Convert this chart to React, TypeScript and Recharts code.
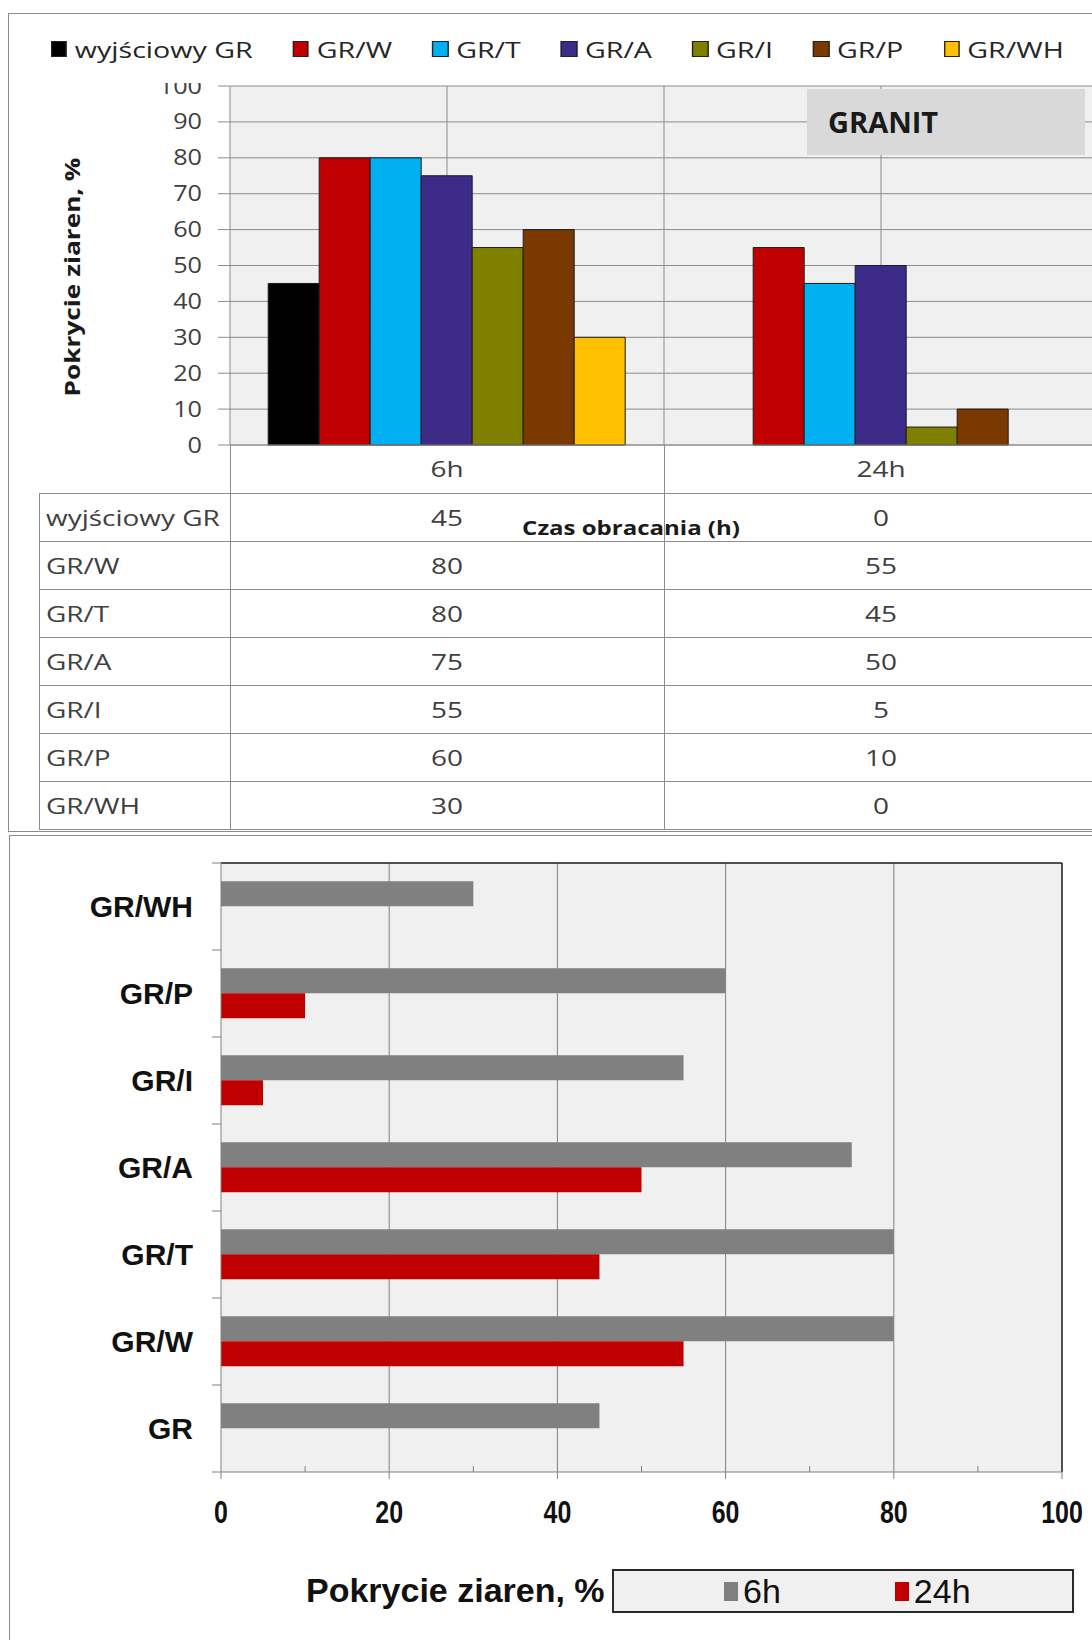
import React from "react";
import { BarChart, Bar, XAxis, YAxis, CartesianGrid, Legend, ReferenceLine } from "recharts";

const seriesNames = ["wyjściowy GR", "GR/W", "GR/T", "GR/A", "GR/I", "GR/P", "GR/WH"];
const shortNames = ["GR", "GR/W", "GR/T", "GR/A", "GR/I", "GR/P", "GR/WH"];
const times = ["6h", "24h"];
const values6h = [45, 80, 80, 75, 55, 60, 30];
const values24h = [0, 55, 45, 50, 5, 10, 0];
const seriesColors = ["#000000", "#C00000", "#00B0F0", "#3D2B89", "#808000", "#7A3900", "#FFC000"];
const timeColors = ["#808080", "#C00000"];
const topTicks = [0, 10, 20, 30, 40, 50, 60, 70, 80, 90, 100];
const bottomTicks = [0, 10, 20, 30, 40, 50, 60, 70, 80, 90, 100];

const valuesByTime = [values6h, values24h];

const topData = times.map((time, ti) => {
  const row: Record<string, string | number> = { time };
  seriesNames.forEach((_, si) => {
    row[`s${si}`] = valuesByTime[ti][si];
  });
  return row;
});

// bottom chart lists categories top-down, GR/WH first
const bottomData = shortNames
  .map((name, i) => ({ name, h6: values6h[i], h24: values24h[i] }))
  .reverse();

const CALIBRI = "'Open Sans', sans-serif";
const ARIAL = "'Liberation Sans', Arial, sans-serif";

// layout
const TOP_W = 1100;
const TOP_H = 493;
const TOP_LEFT = 230;
const TOP_TOP = 86;
const TOP_RIGHT_M = 2;
const TOP_PLOT_W = TOP_W - TOP_LEFT - TOP_RIGHT_M;
const TOP_PLOT_BOTTOM = 445;
const TABLE_TOP = 493;
const ROW_H = 48;
const TABLE_LEFT = 39;

const BOT_Y = 835;
const BOT_W = 1092;
const BOT_H = 805;
const BOT_LEFT = 221;
const BOT_TOP_M = 28;
const BOT_PLOT_H = 609;
const X_MAX = 100;

const lineColor = "#8C8C8C";

const topVerticalLines = ({ offset }: any) => {
  const n = times.length;
  const out: number[] = [];
  for (let i = 0; i < n; i++) {
    out.push(offset.left + (offset.width * (i + 0.5)) / n);
    if (i > 0) out.push(offset.left + (offset.width * i) / n);
  }
  return out;
};

const TopYTick = (props: any) => {
  const { x, y, payload } = props;
  return (
    <text
      transform={`translate(${x},${y}) scale(1.2,1)`}
      textAnchor="end"
      dy="0.36em"
      fill="#404040"
      style={{ fontFamily: CALIBRI, fontSize: 21 }}
    >
      {payload.value}
    </text>
  );
};

const TopXTick = (props: any) => {
  const { x, y, payload } = props;
  return (
    <text
      transform={`translate(${x},${y + 32}) scale(1.27,1)`}
      textAnchor="middle"
      fill="#404040"
      style={{ fontFamily: CALIBRI, fontSize: 22 }}
    >
      {payload.value}
    </text>
  );
};

const BottomYTick = (props: any) => {
  const { x, y, payload, index } = props;
  const band = BOT_PLOT_H / shortNames.length;
  return (
    <g>
      <line x1={x - 9} x2={x} y1={y - band / 2} y2={y - band / 2} stroke="#808080" />
      {index === shortNames.length - 1 && (
        <line x1={x - 9} x2={x} y1={y + band / 2} y2={y + band / 2} stroke="#808080" />
      )}
      <text
        x={x - 28}
        y={y}
        dy="0.36em"
        textAnchor="end"
        fill="#111"
        style={{ fontFamily: ARIAL, fontSize: 30, fontWeight: 700 }}
      >
        {payload.value}
      </text>
    </g>
  );
};

const BottomXTick = (props: any) => {
  const { x, y, payload } = props;
  const major = payload.value % 20 === 0;
  return (
    <g>
      <line x1={x} x2={x} y1={y} y2={major ? y + 7 : y - 6} stroke="#808080" />
      {major && (
        <text
          transform={`translate(${x},${y + 51}) scale(0.78,1)`}
          textAnchor="middle"
          fill="#111"
          style={{ fontFamily: ARIAL, fontSize: 32, fontWeight: 700 }}
        >
          {payload.value}
        </text>
      )}
    </g>
  );
};

const TopLegend = () => (
  <div style={{ position: "relative", width: "100%", height: "100%" }}>
    <div
      style={{
        position: "absolute",
        left: 42,
        top: 20,
        height: 30,
        display: "flex",
        alignItems: "center",
        transform: "scaleX(1.3)",
        transformOrigin: "0 50%",
        whiteSpace: "nowrap",
        fontFamily: CALIBRI,
        fontSize: 22,
        lineHeight: "30px",
        color: "#262626",
      }}
    >
      {seriesNames.map((n, i) => (
        <div key={n} style={{ display: "flex", alignItems: "center", marginRight: 31 }}>
          <span
            style={{
              width: 12.3,
              height: 16,
              background: seriesColors[i],
              border: "1px solid #222",
              boxSizing: "border-box",
              marginRight: 6,
            }}
          />
          <span>{n}</span>
        </div>
      ))}
    </div>
  </div>
);

const BottomLegend = () => (
  <div
    style={{
      boxSizing: "border-box",
      width: 462,
      height: 44,
      border: "2px solid #2a2a2a",
      background: "#F0F0F0",
      display: "flex",
      alignItems: "center",
      paddingLeft: 110,
      fontFamily: ARIAL,
      fontSize: 34,
      lineHeight: "40px",
      color: "#111",
    }}
  >
    {times.map((t, i) => (
      <div key={t} style={{ display: "flex", alignItems: "center", marginRight: i === 0 ? 114 : 0 }}>
        <span style={{ width: 14, height: 19, background: timeColors[i], marginRight: 5 }} />
        <span>{t}</span>
      </div>
    ))}
  </div>
);

const cellText: React.CSSProperties = {
  position: "absolute",
  height: ROW_H,
  lineHeight: `${ROW_H}px`,
  fontFamily: CALIBRI,
  fontSize: 22,
  color: "#404040",
  whiteSpace: "nowrap",
};

function DataTable() {
  const colMid = TOP_LEFT + TOP_PLOT_W / 2;
  const centers = times.map((_, i) => TOP_LEFT + (TOP_PLOT_W * (i + 0.5)) / times.length);
  const tableBottom = TABLE_TOP + ROW_H * seriesNames.length;
  return (
    <>
      {seriesNames.map((_, i) => (
        <div
          key={`h${i}`}
          style={{
            position: "absolute",
            left: TABLE_LEFT,
            top: TABLE_TOP + ROW_H * i,
            width: TOP_W,
            height: 1,
            background: lineColor,
          }}
        />
      ))}
      <div style={{ position: "absolute", left: TABLE_LEFT, top: tableBottom, width: TOP_W, height: 1, background: lineColor }} />
      <div style={{ position: "absolute", left: TABLE_LEFT, top: TABLE_TOP, width: 1, height: tableBottom - TABLE_TOP, background: lineColor }} />
      {[TOP_LEFT, colMid].map((x) => (
        <div
          key={`v${x}`}
          style={{ position: "absolute", left: x, top: TOP_PLOT_BOTTOM, width: 1, height: tableBottom - TOP_PLOT_BOTTOM, background: lineColor }}
        />
      ))}
      {seriesNames.map((n, i) => (
        <div
          key={`l${n}`}
          style={{ ...cellText, left: TABLE_LEFT + 7, top: TABLE_TOP + ROW_H * i, transform: "scaleX(1.27)", transformOrigin: "0 50%" }}
        >
          {n}
        </div>
      ))}
      {valuesByTime.map((vals, ti) =>
        vals.map((v, i) => (
          <div
            key={`c${ti}-${i}`}
            style={{ ...cellText, left: centers[ti], top: TABLE_TOP + ROW_H * i, transform: "translateX(-50%) scaleX(1.27)" }}
          >
            {v}
          </div>
        ))
      )}
    </>
  );
}

export default function App() {
  return (
    <div
      style={{
        position: "absolute",
        left: 0,
        top: 0,
        width: 1092,
        height: 1640,
        overflow: "hidden",
        background: "#fff",
      }}
    >
      {/* outer frames */}
      <div style={{ position: "absolute", left: 8, top: 13, width: 1200, height: 819, border: `1px solid ${lineColor}`, boxSizing: "border-box" }} />
      <div style={{ position: "absolute", left: 9, top: BOT_Y, width: 1200, height: 1000, border: `1px solid ${lineColor}`, boxSizing: "border-box" }} />

      {/* top chart */}
      <div style={{ position: "absolute", left: 0, top: 0 }}>
        <BarChart
          width={TOP_W}
          height={TOP_H}
          data={topData}
          margin={{ top: TOP_TOP, right: TOP_RIGHT_M, bottom: 0, left: 0 }}
          barCategoryGap="8.8%"
          barGap={0}
        >
          <CartesianGrid fill="#F0F0F0" stroke={lineColor} verticalCoordinatesGenerator={topVerticalLines} />
          <XAxis
            dataKey="time"
            height={TOP_H - TOP_PLOT_BOTTOM}
            tickLine={false}
            tickSize={0}
            tickMargin={0}
            axisLine={{ stroke: lineColor }}
            tick={(p: any) => <TopXTick {...p} />}
          />
          <YAxis
            type="number"
            domain={[0, 100]}
            ticks={topTicks}
            interval={0}
            width={TOP_LEFT}
            tickSize={12}
            tickMargin={16}
            tickLine={{ stroke: lineColor }}
            axisLine={{ stroke: lineColor }}
            tick={(p: any) => <TopYTick {...p} />}
          />
          {seriesNames.map((n, i) => (
            <Bar
              key={n}
              dataKey={`s${i}`}
              name={n}
              fill={seriesColors[i]}
              stroke="#1c1c1c"
              strokeWidth={1}
              isAnimationActive={false}
            />
          ))}
          <Legend
            layout="horizontal"
            verticalAlign="middle"
            align="center"
            wrapperStyle={{ left: 9, top: 14, width: 1083, height: 69, background: "#fff", zIndex: 2 }}
            content={() => <TopLegend />}
          />
        </BarChart>
      </div>

      <DataTable />

      {/* GRANIT label box */}
      <div
        style={{
          position: "absolute",
          left: 807,
          top: 89,
          width: 278,
          height: 66,
          background: "#D9D9D9",
          paddingLeft: 21,
          boxSizing: "border-box",
          lineHeight: "66px",
          fontFamily: CALIBRI,
          fontWeight: 700,
          fontSize: 29,
          color: "#1a1a1a",
        }}
      >
        GRANIT
      </div>

      {/* top axis titles */}
      <div
        style={{
          position: "absolute",
          left: 72,
          top: 277,
          transform: "translate(-50%,-50%) rotate(-90deg) scale(1.25,1)",
          whiteSpace: "nowrap",
          fontFamily: CALIBRI,
          fontWeight: 700,
          fontSize: 21,
          color: "#1a1a1a",
        }}
      >
        Pokrycie ziaren, %
      </div>
      <div
        style={{
          position: "absolute",
          left: 631,
          top: 527,
          transform: "translate(-50%,-50%) scale(1.2,1)",
          whiteSpace: "nowrap",
          fontFamily: CALIBRI,
          fontWeight: 700,
          fontSize: 20,
          color: "#1a1a1a",
        }}
      >
        Czas obracania (h)
      </div>

      {/* bottom chart */}
      <div style={{ position: "absolute", left: 0, top: BOT_Y }}>
        <BarChart
          layout="vertical"
          width={BOT_W}
          height={BOT_H}
          data={bottomData}
          margin={{ top: BOT_TOP_M, right: 30, bottom: 0, left: 0 }}
          barCategoryGap="21%"
          barGap={0}
        >
          <CartesianGrid
            fill="#F0F0F0"
            stroke="#808080"
            horizontal={false}
            verticalCoordinatesGenerator={({ offset }: any) =>
              bottomTicks
                .filter((v) => v % 20 === 0 && v > 0 && v < X_MAX)
                .map((v) => offset.left + (offset.width * v) / X_MAX)
            }
          />
          <CartesianGrid
            fill="none"
            stroke="#1a1a1a"
            strokeWidth={1.5}
            vertical={false}
            horizontalCoordinatesGenerator={({ offset }: any) => [offset.top]}
          />
          <XAxis
            type="number"
            domain={[0, X_MAX]}
            ticks={bottomTicks}
            interval={0}
            height={BOT_H - BOT_TOP_M - BOT_PLOT_H}
            tickLine={false}
            tickSize={0}
            tickMargin={0}
            axisLine={{ stroke: "#808080" }}
            tick={(p: any) => <BottomXTick {...p} />}
          />
          <YAxis
            type="category"
            dataKey="name"
            width={BOT_LEFT}
            interval={0}
            tickLine={false}
            tickSize={0}
            tickMargin={0}
            axisLine={{ stroke: "#808080" }}
            tick={(p: any) => <BottomYTick {...p} />}
          />
          <ReferenceLine x={X_MAX} stroke="#1a1a1a" strokeWidth={1.5} />
          <Bar dataKey="h6" name="6h" fill={timeColors[0]} isAnimationActive={false} />
          <Bar dataKey="h24" name="24h" fill={timeColors[1]} isAnimationActive={false} />
          <Legend
            layout="horizontal"
            verticalAlign="middle"
            align="center"
            wrapperStyle={{ left: 612, top: 734, width: 462, height: 44 }}
            content={() => <BottomLegend />}
          />
        </BarChart>
      </div>

      {/* bottom x title */}
      <div
        style={{
          position: "absolute",
          left: 306,
          top: BOT_Y + 735,
          lineHeight: "40px",
          whiteSpace: "nowrap",
          fontFamily: ARIAL,
          fontWeight: 700,
          fontSize: 34,
          color: "#111",
        }}
      >
        Pokrycie ziaren, %
      </div>
    </div>
  );
}
